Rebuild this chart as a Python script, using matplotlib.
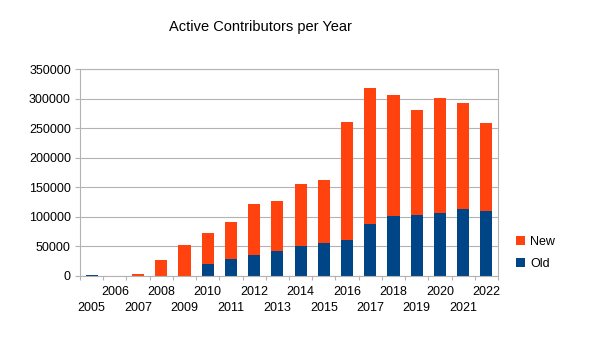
import numpy as np
import matplotlib.pyplot as plt

plt.rcParams['font.family'] = ['Liberation Sans', 'DejaVu Sans']

years = list(range(2005, 2023))
old = [2000, 300, 0, 0, 0, 20000, 29000, 36000, 43000, 50000,
       56000, 61000, 88000, 101500, 103500, 106500, 114000, 110500]
total = [2000, 300, 4000, 27000, 52000, 72000, 92000, 121000, 127000, 155500,
         163000, 261000, 318000, 306500, 280500, 301000, 292000, 258000]
new = [t - o for t, o in zip(total, old)]

ORANGE = "#ff420e"
NAVY = "#004586"
GRID = "#b3b3b3"

fig = plt.figure(figsize=(6.05, 3.41), dpi=100)
ax = fig.add_axes([80 / 605, 65 / 341, 418 / 605, 207 / 341])

x = np.arange(len(years))
ax.bar(x, old, width=0.52, color=NAVY, label="Old", zorder=2)
ax.bar(x, new, width=0.52, bottom=old, color=ORANGE, label="New", zorder=2)

ax.set_xlim(-0.5, len(years) - 0.5)
ax.set_ylim(0, 350000)
ax.set_yticks(np.arange(0, 350001, 50000))
ax.yaxis.grid(True, color=GRID, linewidth=0.8, zorder=0)
ax.tick_params(axis="y", length=3.6, width=0.8, color=GRID, pad=3, labelsize=9)

# boundary ticks + staggered labels at centres
ax.set_xticks(np.arange(-0.5, len(years), 1.0))
ax.set_xticklabels([])
ax.tick_params(axis="x", which="major", length=3, width=0.8, color=GRID)
ax.set_xticks(x, [str(y) for y in years], minor=True)
ax.tick_params(axis="x", which="minor", length=0, labelsize=9)
for i, t in enumerate(ax.xaxis.get_minor_ticks()):
    t.set_pad(7.5 if i % 2 else 18.5)

for s in ax.spines.values():
    s.set_color(GRID)
    s.set_linewidth(0.8)

h, l = ax.get_legend_handles_labels()
fig.legend(h[::-1], l[::-1], loc="center left", bbox_to_anchor=(505 / 605, 88 / 341),
           frameon=False, fontsize=9, handlelength=0.7, handleheight=0.7,
           handletextpad=0.4, labelspacing=0.8)

fig.text(260 / 605, 1 - 27 / 341, "Active Contributors per Year",
         ha="center", va="center", fontsize=10.5)

fig.savefig("out.png", dpi=100)
